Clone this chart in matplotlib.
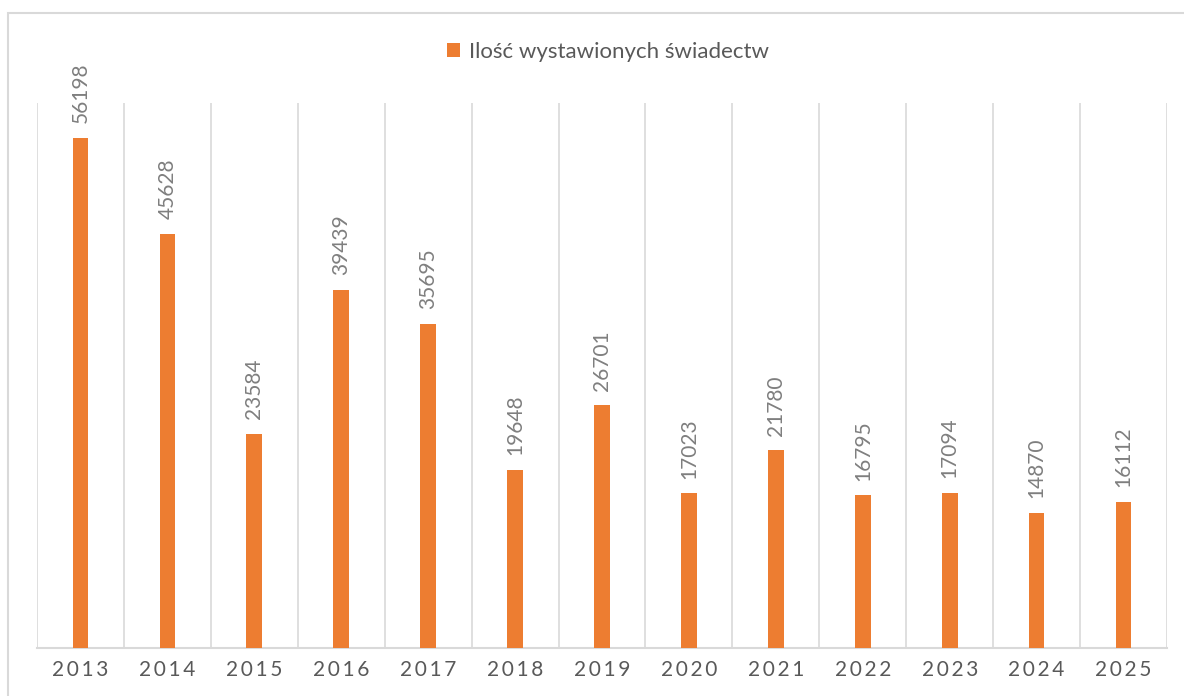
import matplotlib
matplotlib.use("Agg")
import matplotlib.pyplot as plt
from matplotlib.patches import Rectangle
import numpy as np

years = ["2013", "2014", "2015", "2016", "2017", "2018", "2019",
         "2020", "2021", "2022", "2023", "2024", "2025"]
counts = [56198, 45628, 23584, 39439, 35695, 19648, 26701,
          17023, 21780, 16795, 17094, 14870, 16112]
series_name = "Ilość wystawionych świadectw"

plt.rcParams['font.family'] = ['Lato', 'DejaVu Sans']

fig = plt.figure(figsize=(11.84, 6.96), dpi=100)
ax = fig.add_axes([37 / 1184, 1 - 648 / 696, 1130 / 1184, 545 / 696])

x = np.arange(len(years))
bars = ax.bar(x, counts, width=0.18, color='#ED7D31', zorder=3, label=series_name)

# category separators
for b in np.arange(len(years) + 1) - 0.5:
    ax.axvline(b, color='#d9d9d9', linewidth=1.2, zorder=1)

ax.set_xlim(-0.5, len(years) - 0.5)
ax.set_ylim(0, 60000)
ax.set_yticks([])
ax.set_xticks(x)
ax.set_xticklabels(["\u2009".join(y) for y in years], fontsize=15, color='#595959')
ax.tick_params(axis='x', length=0, pad=9)
for side in ['top', 'left', 'right']:
    ax.spines[side].set_visible(False)
ax.spines['bottom'].set_color('#d9d9d9')
ax.spines['bottom'].set_linewidth(1.5)

# value labels
for xi, v in zip(x, counts):
    ax.annotate(str(v), (xi, v), xytext=(0, 10.5), textcoords='offset points',
                rotation=90, ha='center', va='bottom', fontsize=15, color='#7f7f7f')

leg = fig.legend(loc='center', bbox_to_anchor=(608 / 1184, 1 - 52 / 696), frameon=False,
                 fontsize=16, handlelength=0.62, handleheight=0.62, handletextpad=0.4)
for t in leg.get_texts():
    t.set_color('#595959')

# chart border
fig.patches.append(Rectangle((8 / 1184, -0.1), 1.2, 1 - 13 / 696 + 0.1,
                             transform=fig.transFigure, fill=False,
                             edgecolor='#d9d9d9', linewidth=1.5))

fig.savefig("out.png", dpi=100)
